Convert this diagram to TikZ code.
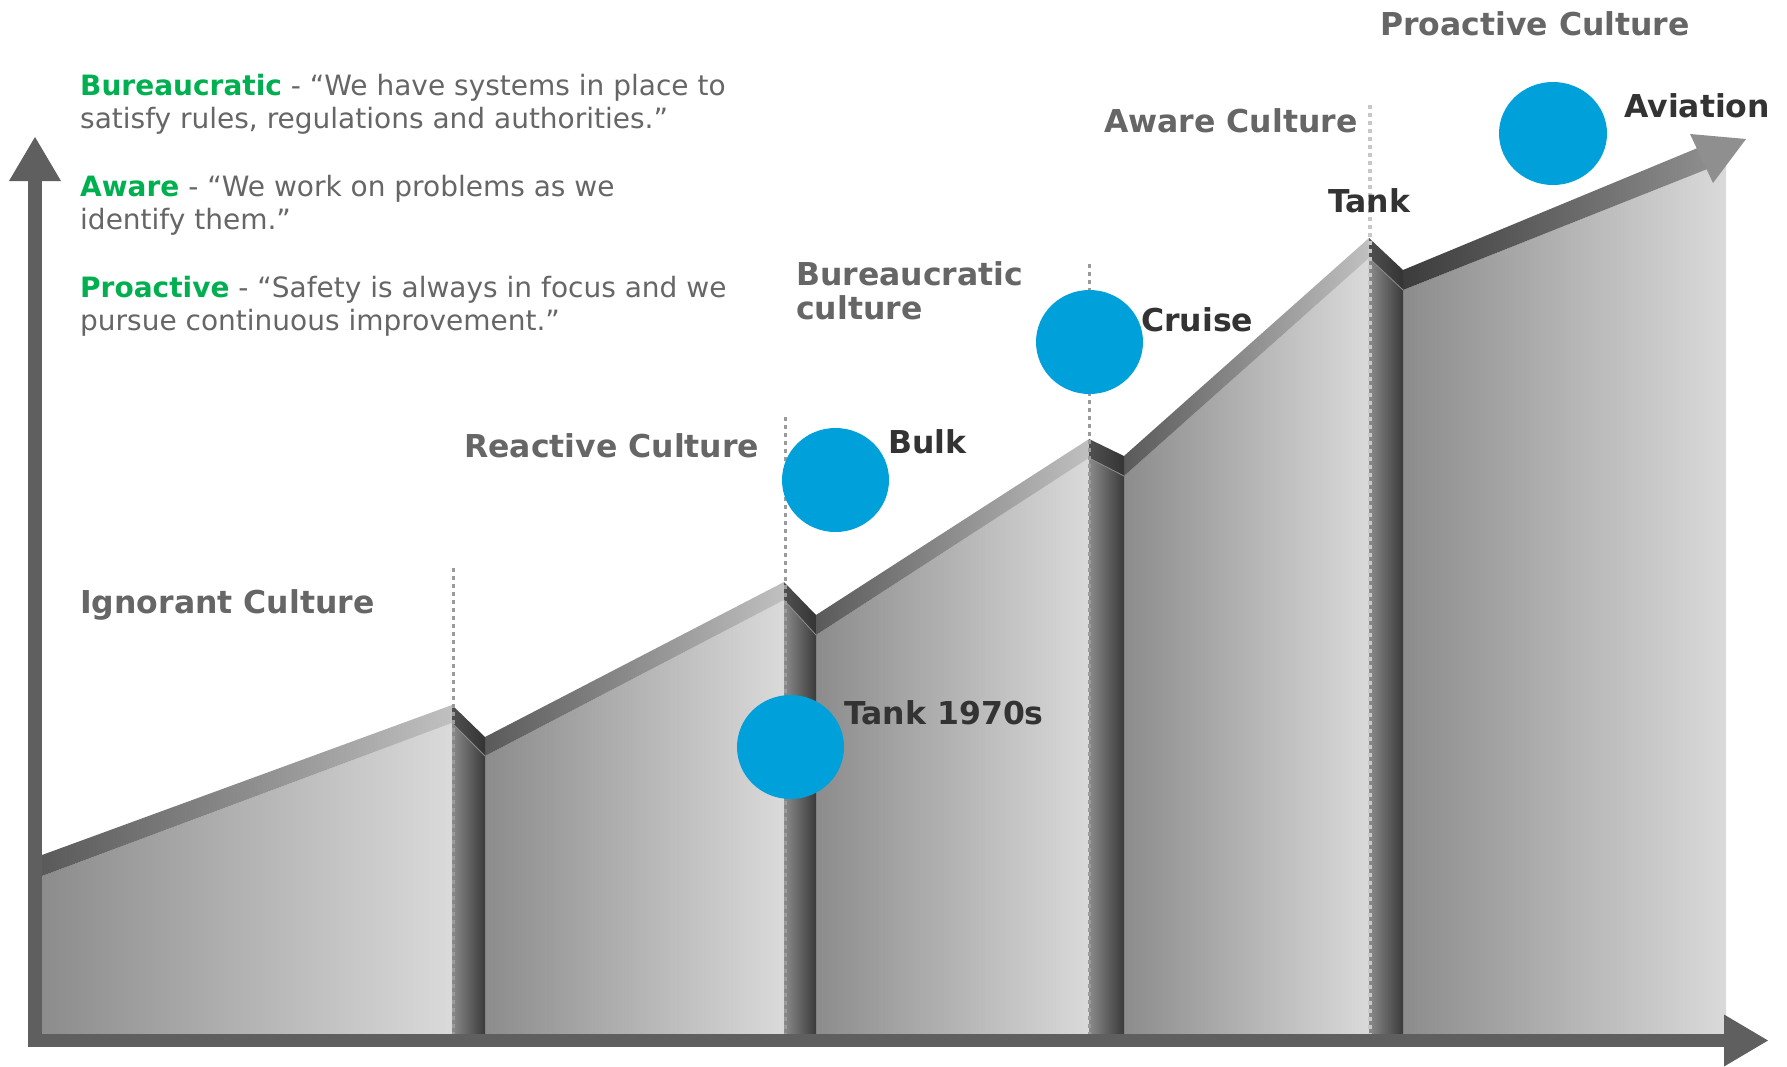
\documentclass[tikz,border=0pt]{standalone}
\usepackage{fontspec}
\setmainfont{DejaVu Sans}
\usetikzlibrary{arrows.meta,shapes.geometric}

\definecolor{axisgray}{HTML}{5F5F5F}
\definecolor{fillL}{HTML}{8C8C8C}
\definecolor{fillR}{HTML}{DADADA}
\definecolor{bandL}{HTML}{5A5A5A}
\definecolor{bandR}{HTML}{C0C0C0}
\definecolor{arrowL}{HTML}{3C3C3C}
\definecolor{arrowR}{HTML}{8E8E8E}
\definecolor{arrowhead}{HTML}{8F8F8F}
\definecolor{foldL}{HTML}{505050}
\definecolor{foldR}{HTML}{343434}
\definecolor{panelL}{HTML}{8A8A8A}
\definecolor{panelR}{HTML}{3A3A3A}
\definecolor{seam}{HTML}{8E8E8E}
\definecolor{dotgray}{HTML}{9B9B9B}
\definecolor{dotlight}{HTML}{C8C8C8}
\definecolor{culturegray}{HTML}{666666}
\definecolor{industrygray}{HTML}{333333}
\definecolor{quotegray}{HTML}{666666}
\definecolor{keygreen}{HTML}{00B050}
\definecolor{bubbleblue}{HTML}{00A0DA}

\newcommand\chartlabelfont{\fontsize{31.5}{36}\selectfont\bfseries}
\newcommand\chartquotefont{\fontsize{28}{33}\selectfont}
\newcommand\keyterm[1]{{\bfseries\color{keygreen}#1}}

\begin{document}
\begin{tikzpicture}[x=1pt,y=-1pt,
  bodyfill/.style={left color=fillL,right color=fillR},
  rim/.style={left color=bandL,right color=bandR},
  foldtop/.style={left color=foldL,right color=foldR},
  foldbody/.style={left color=panelL,right color=panelR},
  foldseam/.style={draw=seam,line width=0.8pt},
  guide/.style={draw=dotgray,line width=3.5pt,dash pattern=on 4pt off 4pt},
  axisbar/.style={draw=axisgray,line width=14pt,-{Triangle[length=44pt,width=52pt,line width=0pt]}},
  bubble/.style={ellipse,fill=bubbleblue,draw=none,inner sep=0pt,minimum width=107pt,minimum height=104pt},
  culture/.style={anchor=base west,inner sep=0pt,text=culturegray,font=\chartlabelfont},
  industry/.style={anchor=base west,inner sep=0pt,text=industrygray,font=\chartlabelfont},
  quote/.style={anchor=base west,inner sep=0pt,text=quotegray,font=\chartquotefont},
]
\fill[white] (0,0) rectangle (1787,1066);
\useasboundingbox (0,0) rectangle (1787,1066);

% ---- stair bodies ----
\shade[bodyfill] (42,876) -- (452,723) -- (452,1034) -- (42,1034) -- cycle;
\shade[bodyfill] (485,756) -- (784,600) -- (784,1034) -- (485,1034) -- cycle;
\shade[bodyfill] (816,635) -- (1089,458) -- (1089,1034) -- (816,1034) -- cycle;
\shade[bodyfill] (1124,476) -- (1369,258) -- (1369,1034) -- (1124,1034) -- cycle;
\shade[bodyfill] (1403,290) -- (1710,168) -- (1726,166) -- (1726,1034) -- (1403,1034) -- cycle;

% ---- rising rims ----
\shade[rim] (42,855) -- (452,705) -- (452,723) -- (42,876) -- cycle;
\shade[rim] (485,737) -- (784,582) -- (784,600) -- (485,756) -- cycle;
\shade[rim] (816,615) -- (1089,439) -- (1089,458) -- (816,635) -- cycle;
\shade[rim] (1124,456) -- (1369,238) -- (1369,258) -- (1124,476) -- cycle;
\shade[left color=arrowL,right color=arrowR] (1403,270) -- (1700,147) -- (1710,168) -- (1403,290) -- cycle;
\fill[arrowhead] (1690,134) -- (1746,139) -- (1713,183) -- cycle;

% ---- folded risers between the steps ----
\shade[foldbody] (452,723) -- (485,756) -- (485,1034) -- (452,1034) -- cycle;
\shade[foldtop] (452,705) -- (485,737) -- (485,756) -- (452,723) -- cycle;
\draw[foldseam] (452,723) -- (485,756);

\shade[foldbody] (784,600) -- (816,635) -- (816,1034) -- (784,1034) -- cycle;
\shade[foldtop] (784,582) -- (816,615) -- (816,635) -- (784,600) -- cycle;
\draw[foldseam] (784,600) -- (816,635);

\shade[foldbody] (1089,458) -- (1124,476) -- (1124,1034) -- (1089,1034) -- cycle;
\shade[foldtop] (1089,439) -- (1124,456) -- (1124,476) -- (1089,458) -- cycle;
\draw[foldseam] (1089,458) -- (1124,476);

\shade[foldbody] (1369,258) -- (1403,290) -- (1403,1034) -- (1369,1034) -- cycle;
\shade[foldtop] (1369,238) -- (1403,270) -- (1403,290) -- (1369,258) -- cycle;
\draw[foldseam] (1369,258) -- (1403,290);

% ---- dotted stage dividers ----
\draw[guide] (453.5,568) -- (453.5,1034);
\draw[guide] (785.5,417) -- (785.5,1034);
\draw[guide] (1089.5,264) -- (1089.5,1034);
\draw[guide,draw=dotlight] (1370,105) -- (1370,1034);

% ---- axes ----
\coordinate (origin) at (35,1047);
\coordinate (ytip) at (35,137);
\coordinate (xstart) at (28,1040.5);
\coordinate (xtip) at (1768,1040.5);
\draw[axisbar] (origin) -- (ytip);
\draw[axisbar,line width=13.5pt] (xstart) -- (xtip);

% ---- industry markers ----
\node[bubble] (tank70) at (790.5,747) {};
\node[bubble] (bulk) at (835.5,480) {};
\node[bubble] (cruise) at (1089.5,342) {};
\node[bubble,minimum width=108pt,minimum height=103pt] (aviation) at (1553,133.5) {};

\node[industry] (tank70label) at (844,724) {Tank 1970s};
\node[industry] (bulklabel) at (888,453) {Bulk};
\node[industry] (cruiselabel) at (1141,331) {Cruise};
\node[industry] (tanklabel) at (1328,212) {Tank};
\node[industry] (aviationlabel) at (1624,117) {Aviation};

% ---- culture stages ----
\node[culture] (ignorant) at (80,613) {Ignorant Culture};
\node[culture] (reactive) at (464,457) {Reactive Culture};
\node[culture] (bureaucratic) at (796,285) {Bureaucratic};
\node[culture] (bureaucratic2) at (796,319) {culture};
\node[culture] (aware) at (1104,132.5) {Aware Culture};
\node[culture] (proactive) at (1380,35) {Proactive Culture};

% ---- definitions ----
\node[quote] (q1a) at (80,95) {\keyterm{Bureaucratic} - “We have systems in place to};
\node[quote] (q1b) at (80,128) {satisfy rules, regulations and authorities.”};
\node[quote] (q2a) at (80,196) {\keyterm{Aware} - “We work on problems as we};
\node[quote] (q2b) at (80,229) {identify them.”};
\node[quote] (q3a) at (80,297) {\keyterm{Proactive} - “Safety is always in focus and we};
\node[quote] (q3b) at (80,330) {pursue continuous improvement.”};
\end{tikzpicture}
\end{document}
